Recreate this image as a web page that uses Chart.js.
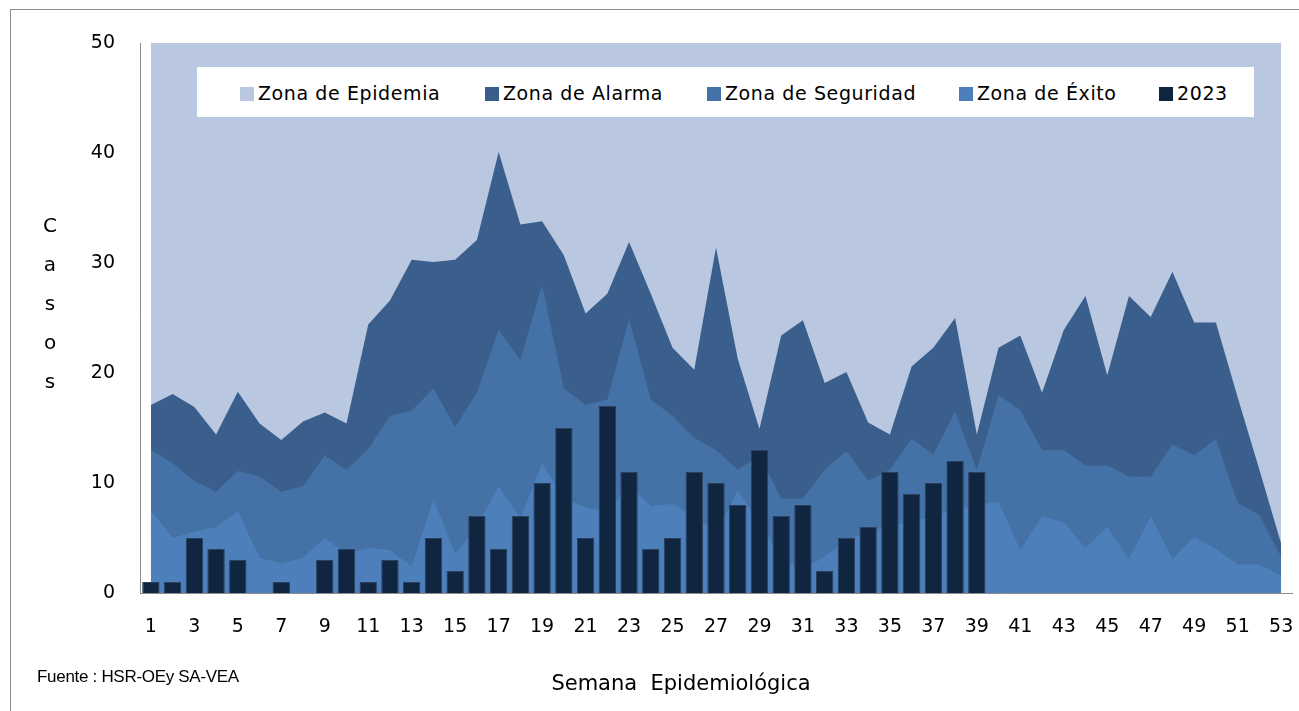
<!DOCTYPE html>
<html>
<head>
<meta charset="utf-8">
<script src="https://cdn.jsdelivr.net/npm/chart.js@4"></script>
<style>
	html, body { margin:0; padding:0; background:#fff; }
	#wrap { position:relative; width:1299px; height:711px; overflow:hidden; font-family:"DejaVu Sans", sans-serif; color:#000; }
	#myChart { position:absolute; left:0; top:0; }
	#frame { position:absolute; left:10px; top:9px; width:1290px; height:710px; border:1px solid #8c8c8c; pointer-events:none; }
	#legend { position:absolute; left:197px; top:67px; width:1057px; height:50px; background:#fff; }
	.item { position:absolute; top:0; height:50px; line-height:52px; font-size:19px; letter-spacing:0.6px; white-space:nowrap; }
	.item span { display:inline-block; width:14px; height:14px; margin-right:4px; vertical-align:-1px; }
	#casos { position:absolute; left:40px; top:206px; width:20px; text-align:center; font-size:20px; line-height:39px; }
	#xtitle { position:absolute; left:0; width:1362px; top:671px; text-align:center; font-size:21px; white-space:pre; }
	#fuente { position:absolute; left:37px; top:667px; font-family:"Liberation Sans", sans-serif; font-size:17px; letter-spacing:-0.3px; }
</style>
</head>
<body>
<div id="wrap">
	<canvas id="myChart" width="1299" height="711"></canvas>
	<div id="legend"></div>
	<div id="casos">C<br>a<br>s<br>o<br>s</div>
	<div id="xtitle">Semana  Epidemiológica</div>
	<div id="fuente">Fuente : HSR-OEy SA-VEA</div>
	<div id="frame"></div>
</div>
<script>
// semanas epidemiologicas 1..53
var semanas = [];
for (var i = 1; i <= 53; i++) semanas.push(String(i));

var yTicks = [0, 10, 20, 30, 40, 50];

// limite superior de cada zona
var zonaEpidemia = [50,50,50,50,50,50,50,50,50,50, 50,50,50,50,50,50,50,50,50,50,
	50,50,50,50,50,50,50,50,50,50, 50,50,50,50,50,50,50,50,50,50,
	50,50,50,50,50,50,50,50,50,50, 50,50,50];

var zonaAlarma = [17.1,18.1,16.9,14.4,18.3,15.4,13.9,15.6,16.4,15.4,
	24.4,26.6,30.3,30.1,30.3,32.1,40.1,33.5,33.8,30.7,
	25.4,27.2,31.9,27.2,22.3,20.3,31.4,21.3,14.9,23.4,
	24.8,19.1,20.1,15.5,14.4,20.6,22.3,25.0,14.4,22.3,
	23.4,18.2,23.9,27.0,19.8,27.0,25.1,29.2,24.6,24.6,
	17.8,11.2,4.5];

var zonaSeguridad = [13.0,11.8,10.2,9.2,11.1,10.6,9.2,9.7,12.5,11.2,
	13.1,16.1,16.6,18.6,15.1,18.2,23.9,21.2,28.0,18.6,
	17.1,17.6,24.9,17.6,16.1,14.1,13.0,11.2,12.5,8.6,
	8.6,11.2,12.9,10.2,11.2,14.0,12.6,16.5,11.2,18.0,
	16.6,13.0,13.0,11.6,11.6,10.6,10.6,13.5,12.5,14.0,
	8.2,7.1,3.3];

var zonaExito = [7.5,5.0,5.6,6.0,7.4,3.2,2.7,3.2,5.0,3.6,
	4.1,3.9,2.4,8.5,3.6,6.0,9.7,6.8,11.8,8.6,
	7.8,7.4,9.8,7.9,8.1,7.0,5.5,9.3,6.5,3.0,
	2.2,3.3,4.8,5.6,6.1,6.5,7.0,7.6,8.0,8.3,
	3.9,7.0,6.4,4.1,6.0,3.1,7.0,3.1,5.1,4.0,
	2.6,2.6,1.6];

var casos2023 = [1,1,5,4,3,0,1,0,3,4,
	1,3,1,5,2,7,4,7,10,15,
	5,17,11,4,5,11,10,8,13,7,
	8,2,5,6,11,9,10,12,11,null,
	null,null,null,null,null,null,null,null,null,null,
	null,null,null];

var nombres = ["Zona de Epidemia", "Zona de Alarma", "Zona de Seguridad", "Zona de Éxito", "2023"];
var colores = ["#B9C7E0", "#3A5F8C", "#4472A6", "#4D7FBB", "#10253F"];
var legendX = [240, 485, 707, 959, 1159];

function area(idx, data){
	return {
		type: "line",
		label: nombres[idx],
		data: data,
		order: 4 - idx + 1,
		backgroundColor: colores[idx],
		borderWidth: 0,
		pointRadius: 0,
		tension: 0,
		fill: "origin"
	};
}

function drawLegend(){
	var box = document.getElementById("legend");
	for (var i = 0; i < nombres.length; i++) {
		var d = document.createElement("div");
		d.className = "item";
		d.style.left = (legendX[i] - 197) + "px";
		d.innerHTML = '<span style="background:' + colores[i] + '"></span>' + nombres[i];
		box.appendChild(d);
	}
}

function drawChart(){
	var ctx = document.getElementById("myChart").getContext("2d");
	var tickFont = { family: "DejaVu Sans", size: 19 };

	new Chart(ctx, {
		data: {
			labels: semanas,
			datasets: [
				{
					type: "bar",
					label: nombres[4],
					data: casos2023,
					order: 0,
					backgroundColor: colores[4],
					borderColor: "#2a4060",
					borderWidth: 1,
					barPercentage: 1,
					categoryPercentage: 0.8
				},
				area(3, zonaExito),
				area(2, zonaSeguridad),
				area(1, zonaAlarma),
				area(0, zonaEpidemia)
			]
		},
		options: {
			responsive: false,
			animation: false,
			layout: { padding: { left: 0, top: 43, right: 7, bottom: 0 } },
			plugins: { legend: { display: false }, tooltip: { enabled: false } },
			scales: {
				x: {
					type: "category",
					offset: true,
					grid: { display: false, drawTicks: false },
					border: { display: true, color: "#8c8c8c", width: 1 },
					ticks: {
						autoSkip: false,
						maxRotation: 0,
						padding: 23,
						color: "#000",
						font: tickFont,
						callback: function(v, i){ return i % 2 === 0 ? semanas[i] : ""; }
					},
					afterFit: function(s){
						s.height = 118;
						s.paddingLeft = 0;
						s.paddingRight = 0;
					}
				},
				y: {
					min: 0,
					max: 50,
					afterBuildTicks: function(s){ s.ticks = yTicks.map(function(v){ return { value: v }; }); },
					grid: { display: false, drawTicks: false },
					border: { display: true, color: "#8c8c8c", width: 1 },
					ticks: { padding: 25, color: "#000", font: tickFont },
					afterFit: function(s){ s.width = 140; }
				}
			}
		}
	});
}

drawLegend();
drawChart();
</script>
</body>
</html>
